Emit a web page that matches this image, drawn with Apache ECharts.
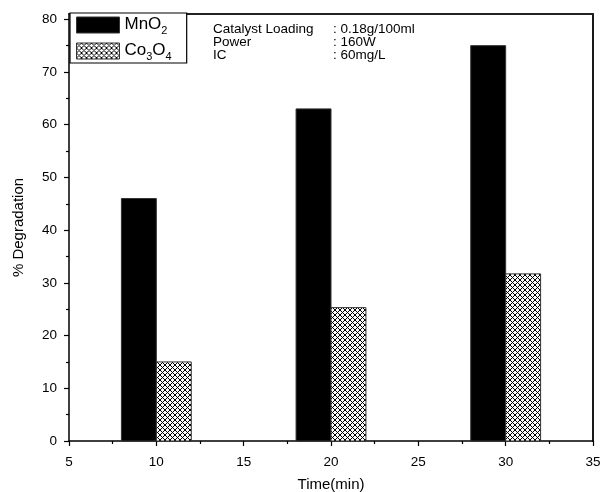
<!DOCTYPE html>
<html>
<head>
<meta charset="utf-8">
<script src="https://cdn.jsdelivr.net/npm/echarts@6/dist/echarts.min.js"></script>
<style>
  html, body { margin: 0; padding: 0; background: #fff; }
  #chart { width: 600px; height: 492px; }
</style>
</head>
<body>
<div id="chart"></div>
<script>
// Irradiation time (min) and % degradation for each catalyst
const times = [10, 20, 30];
const mno2 = [46, 63, 75];
const co3o4 = [15, 25.3, 31.7];

// Axis ticks
const yMajorTicks = [0, 10, 20, 30, 40, 50, 60, 70, 80];
const yMinorTicks = [5, 15, 25, 35, 45, 55, 65, 75];

// Experimental conditions shown in the header
const condLabels = ['Catalyst Loading', 'Power', 'IC'];
const condValues = [': 0.18g/100ml', ': 160W', ': 60mg/L'];

const FONT = '"Liberation Sans", Arial, sans-serif';
const BAR_SPAN = 2; // width of each bar in minutes

// Cross-hatch fill for the Co3O4 bars
function makeHatch() {
  const s = 5;
  const c = document.createElement('canvas');
  c.width = s; c.height = s;
  const g = c.getContext('2d');
  g.fillStyle = '#fff';
  g.fillRect(0, 0, s, s);
  g.strokeStyle = '#000';
  g.lineWidth = 1;
  g.beginPath();
  g.moveTo(-1, -1); g.lineTo(s + 1, s + 1);
  g.moveTo(-1, s + 1); g.lineTo(s + 1, -1);
  g.stroke();
  return c;
}
const hatch = { image: makeHatch(), repeat: 'repeat' };

function barRenderer(left, right, fill) {
  return function (params, api) {
    const x = api.value(0), y = api.value(1);
    const p0 = api.coord([x + left, y]);
    const p1 = api.coord([x + right, 0]);
    return {
      type: 'rect',
      shape: { x: p0[0], y: p0[1], width: p1[0] - p0[0], height: p1[1] - p0[1] },
      style: { fill: fill, stroke: '#333', lineWidth: 1 }
    };
  };
}

const chart = echarts.init(document.getElementById('chart'), null, { renderer: 'canvas' });

const condText = [];
condLabels.forEach((t, i) => {
  condText.push({ type: 'text', left: 213, top: 22 + i * 13,
    style: { text: t, font: '13.5px ' + FONT, fill: '#000' } });
  condText.push({ type: 'text', left: 333, top: 22 + i * 13,
    style: { text: condValues[i], font: '13.5px ' + FONT, fill: '#000' } });
});

chart.setOption({
  animation: false,
  backgroundColor: '#fff',
  textStyle: { fontFamily: FONT },
  grid: { left: 69, right: 7, top: 14, bottom: 51, containLabel: false, outerBoundsMode: 'none' },
  legend: {
    left: 70, top: 13,
    orient: 'vertical',
    itemWidth: 43, itemHeight: 16, itemGap: 6,
    padding: [3, 15, 1, 6],
    borderColor: '#000', borderWidth: 1.2,
    backgroundColor: '#fff',
    icon: 'rect',
    data: [
      { name: 'MnO2', itemStyle: { color: '#000', borderColor: '#333', borderWidth: 1 } },
      { name: 'Co3O4', itemStyle: { color: hatch, borderColor: '#333', borderWidth: 1 } }
    ],
    formatter: function (name) {
      if (name === 'MnO2') return '{m|MnO}{s|2}';
      return '{m|Co}{s|3}{m|O}{s|4}';
    },
    textStyle: {
      rich: {
        m: { fontSize: 17, lineHeight: 18, fontFamily: FONT, color: '#000', verticalAlign: 'top' },
        s: { fontSize: 11, lineHeight: 10, fontFamily: FONT, color: '#000',
             verticalAlign: 'top', padding: [9, 0, 0, 0] }
      }
    }
  },
  xAxis: [
    {
      type: 'value', min: 5, max: 35, interval: 5,
      name: 'Time(min)', nameLocation: 'middle', nameGap: 36,
      nameTextStyle: { fontSize: 15, color: '#000', fontFamily: FONT },
      axisLine: { show: true, onZero: false, lineStyle: { color: '#000', width: 1.5 } },
      axisTick: { show: true, inside: false, length: 5, lineStyle: { color: '#000', width: 1.2 } },
      minorTick: { show: true, splitNumber: 2, length: 3, lineStyle: { color: '#000', width: 1.2 } },
      axisLabel: { fontSize: 13.5, color: '#000', margin: 14, fontFamily: FONT },
      splitLine: { show: false }
    },
    {
      type: 'value', min: 5, max: 35, position: 'top',
      axisLine: { show: true, onZero: false, lineStyle: { color: '#222', width: 1.8 } },
      axisTick: { show: false }, axisLabel: { show: false }, splitLine: { show: false }
    }
  ],
  yAxis: [
    {
      type: 'value', min: 0, max: 81,
      name: '% Degradation', nameLocation: 'middle', nameGap: 43,
      nameTextStyle: { fontSize: 15, color: '#000', fontFamily: FONT },
      axisLine: { show: true, onZero: false, lineStyle: { color: '#000', width: 1.5 } },
      axisTick: { show: true, inside: false, length: 5, customValues: yMajorTicks,
        lineStyle: { color: '#000', width: 1.2 } },
      axisLabel: { fontSize: 13.5, color: '#000', margin: 12, customValues: yMajorTicks, fontFamily: FONT },
      splitLine: { show: false }
    },
    {
      type: 'value', min: 0, max: 81, position: 'right',
      axisLine: { show: true, onZero: false, lineStyle: { color: '#000', width: 1.8 } },
      axisTick: { show: false }, axisLabel: { show: false }, splitLine: { show: false }
    },
    {
      type: 'value', min: 0, max: 81, position: 'left',
      axisLine: { show: false },
      axisTick: { show: true, inside: false, length: 3, customValues: yMinorTicks,
        lineStyle: { color: '#000', width: 1.2 } },
      axisLabel: { show: false }, splitLine: { show: false }
    }
  ],
  graphic: condText,
  series: [
    {
      name: 'MnO2', type: 'custom', xAxisIndex: 0, yAxisIndex: 0,
      itemStyle: { color: '#000' },
      renderItem: barRenderer(-BAR_SPAN, 0, '#000'),
      encode: { x: 0, y: 1 },
      data: times.map((t, i) => [t, mno2[i]])
    },
    {
      name: 'Co3O4', type: 'custom', xAxisIndex: 0, yAxisIndex: 0,
      itemStyle: { color: hatch },
      renderItem: barRenderer(0, BAR_SPAN, hatch),
      encode: { x: 0, y: 1 },
      data: times.map((t, i) => [t, co3o4[i]])
    }
  ]
});
</script>
</body>
</html>
